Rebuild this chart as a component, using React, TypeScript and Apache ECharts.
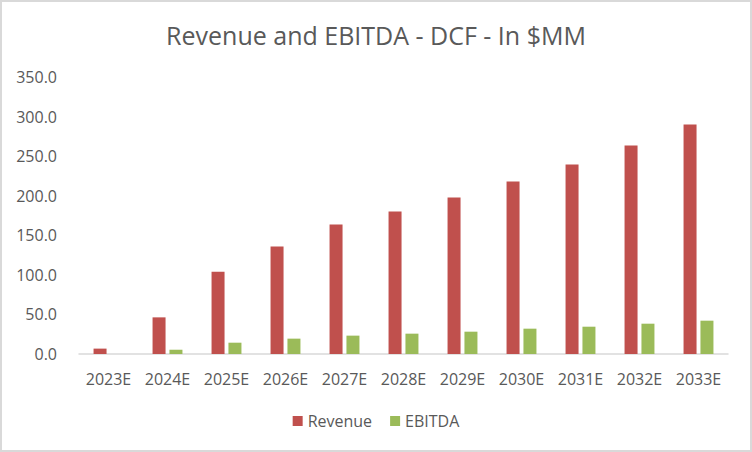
import React, { useEffect, useRef } from "react";
import * as echarts from "echarts";

const categories = ["2023E", "2024E", "2025E", "2026E", "2027E", "2028E", "2029E", "2030E", "2031E", "2032E", "2033E"];
const revenue = [6.8, 46.3, 104.0, 135.7, 163.5, 180.0, 197.7, 218.0, 239.4, 263.4, 290.0];
const ebitda = [0.0, 5.4, 14.3, 19.4, 23.2, 25.7, 28.2, 32.0, 34.5, 38.3, 42.1];
const yTicks = { min: 0, max: 350, interval: 50 };

const FONT = "'Open Sans', sans-serif";
const TEXT = "#595959";

export default function App() {
  const ref = useRef<HTMLDivElement>(null);
  useEffect(() => {
    document.body.style.margin = "0";
    const chart = echarts.init(ref.current!, null, { renderer: "svg" });
    chart.setOption({
      animation: false,
      backgroundColor: "#ffffff",
      title: {
        text: "Revenue and EBITDA - DCF - In $MM",
        left: "center",
        top: 17,
        textStyle: { fontFamily: FONT, fontSize: 25, fontWeight: "normal", color: TEXT },
      },
      graphic: [
        {
          type: "rect",
          shape: { x: 1, y: 1, width: 750, height: 450 },
          style: { fill: "none", stroke: "#d9d9d9", lineWidth: 2 },
          silent: true,
        },
      ],
      legend: {
        data: ["Revenue", "EBITDA"],
        bottom: 18,
        left: "center",
        itemWidth: 10,
        itemHeight: 10,
        itemGap: 18,
        icon: "rect",
        textStyle: { fontFamily: FONT, fontSize: 16, color: TEXT },
      },
      grid: { left: 79, right: 24, top: 77, bottom: 98, containLabel: false },
      xAxis: {
        type: "category",
        data: categories,
        axisLine: { lineStyle: { color: "#d9d9d9", width: 1.5 } },
        axisTick: { show: false },
        axisLabel: { fontFamily: FONT, fontSize: 16, color: TEXT, margin: 17, interval: 0 },
      },
      yAxis: {
        type: "value",
        min: yTicks.min,
        max: yTicks.max,
        interval: yTicks.interval,
        splitLine: { show: false },
        axisLine: { show: false },
        axisTick: { show: false },
        axisLabel: {
          fontFamily: FONT,
          fontSize: 16,
          color: TEXT,
          margin: 22,
          formatter: (v: number) => v.toFixed(1),
        },
      },
      series: [
        {
          name: "Revenue",
          type: "bar",
          data: revenue,
          barWidth: 13,
          barGap: "30%",
          itemStyle: { color: "#c0504d" },
        },
        {
          name: "EBITDA",
          type: "bar",
          data: ebitda,
          barWidth: 13,
          itemStyle: { color: "#9bbb59" },
        },
      ],
    });
    return () => chart.dispose();
  }, []);
  return <div ref={ref} style={{ width: 752, height: 452 }} />;
}
